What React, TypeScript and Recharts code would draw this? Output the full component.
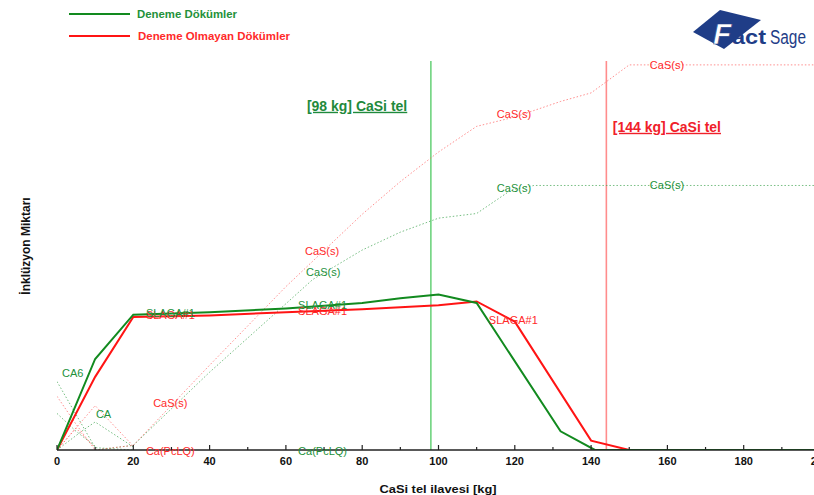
import React from "react";
import { LineChart, Line, XAxis, YAxis, ReferenceLine, ReferenceDot } from "recharts";

// ---- Series data (CaSi tel ilavesi [kg] vs. İnklüzyon Miktarı) ----
const greenSlagX = [0, 10, 20, 40, 60, 80, 90, 100, 110, 132, 141, 200];
const greenSlagY = [0, 11.7, 17.4, 17.7, 18.2, 18.9, 19.5, 20.0, 18.9, 2.4, 0, 0];

const redSlagX = [0, 10, 20, 40, 60, 80, 100, 110, 120, 140, 150];
const redSlagY = [0, 9.4, 17.1, 17.3, 17.7, 18.1, 18.6, 19.1, 16.5, 1.2, 0];

const greenCaSX = [10, 20, 40, 60, 67, 80, 90, 100, 110, 119, 125, 200];
const greenCaSY = [0, 0.6, 10.0, 18.8, 21.9, 25.7, 28.0, 29.8, 30.4, 33.4, 34.0, 34.0];

const redCaSX = [10, 20, 40, 60, 80, 90, 100, 110, 120, 132, 140, 150, 200];
const redCaSY = [0, 0.6, 10.9, 21.0, 30.3, 34.5, 38.3, 41.6, 42.8, 44.8, 45.9, 49.5, 49.5];

const greenCA6X = [0, 10, 20];
const greenCA6Y = [8.8, 0.3, 0];
const redCA6X = [0, 5, 10];
const redCA6Y = [6.9, 3.3, 0];
const greenCAX = [0, 7, 10, 20];
const greenCAY = [0, 2.6, 3.6, 0.4];
const redCAX = [0, 10, 20];
const redCAY = [0, 5.7, 0.5];
const greenC3AX = [0, 5, 10];
const greenC3AY = [4.7, 2.4, 0.5];
const redC3AX = [0, 5, 10];
const redC3AY = [0, 2.8, 0.3];

// CaSi tel markers [kg]
const greenMarkKg = 98;
const redMarkKg = 144;

// Phase labels: text, x, y, series
const labelText = ["CA6", "CA", "CaS(s)", "Ca(PcLQ)", "Ca(PcLQ)", "SLAGA#1", "SLAGA#1", "SLAGA#1", "SLAGA#1", "SLAGA#1", "CaS(s)", "CaS(s)", "CaS(s)", "CaS(s)", "CaS(s)", "CaS(s)"];
const labelX = [1.3, 10.2, 25.2, 23.3, 63.2, 23.3, 23.3, 63.2, 63.2, 113.2, 65.0, 65.3, 115.3, 115.3, 155.4, 155.4];
const labelY = [9.4, 4.1, 5.5, -0.6, -0.6, 16.8, 17.1, 17.4, 18.1, 16.2, 25.1, 22.4, 42.7, 33.2, 49.0, 33.5];
const labelSeries = ["g", "g", "r", "r", "g", "r", "g", "r", "g", "r", "r", "g", "r", "g", "r", "g"];

const xTicks = Array.from({ length: 21 }, (_, i) => i * 10);
const yTicks = Array.from({ length: 51 }, (_, i) => i);

const GREEN = "#128a1f";
const RED = "#ff1414";
const GREEN_TXT = "#23913a";
const RED_TXT = "#ff2a2a";
const GREEN_DOT = "#4aa85a";
const RED_DOT = "#ff6a6a";
const LOGO = "#1f3d87";
const FONT = "'Liberation Sans', Arial, sans-serif";

const W = 830;
const H = 487;
const M = { top: 53, right: 18, bottom: 0, left: 49 };
const X_AXIS_H = 45;
const PLOT_LEFT = M.left;
const PLOT_TOP = M.top;
const PLOT_BOTTOM = H - M.bottom - X_AXIS_H;

const pts = (xs: number[], ys: number[]) => xs.map((x, i) => ({ x, y: ys[i] }));

const BottomTick = (props: any) => {
  const { x, payload } = props;
  const v = payload.value as number;
  const major = v % 20 === 0;
  return (
    <g>
      <line x1={x} x2={x} y1={PLOT_BOTTOM} y2={PLOT_BOTTOM - (major ? 5 : 3)} stroke="#222" strokeWidth={1.2} />
      {major && (
        <text x={x} y={PLOT_BOTTOM + 15} textAnchor="middle" fontFamily={FONT} fontWeight="bold" fontSize={11} fill="#111">
          {v}
        </text>
      )}
    </g>
  );
};

const TopTick = (props: any) => {
  const { x } = props;
  return <line x1={x} x2={x} y1={PLOT_TOP} y2={PLOT_TOP + 4} stroke="#222" strokeWidth={1.2} />;
};

const LeftTick = (props: any) => {
  const { y } = props;
  return <line x1={PLOT_LEFT} x2={PLOT_LEFT + 5} y1={y} y2={y} stroke="#222" strokeWidth={1.1} />;
};

const textShape = (text: string, color: string, size = 11, bold = false, underline = false) => (p: any) => (
  <text
    x={p.cx}
    y={p.cy}
    fill={color}
    fontFamily={FONT}
    fontSize={size}
    fontWeight={bold ? "bold" : "normal"}
    textDecoration={underline ? "underline" : undefined}
  >
    {text}
  </text>
);

const dotted = (key: string, xs: number[], ys: number[], color: string) => (
  <Line
    key={key}
    data={pts(xs, ys)}
    dataKey="y"
    type="linear"
    dot={false}
    stroke={color}
    strokeWidth={1}
    strokeDasharray="1.5 2"
    strokeOpacity={0.75}
    isAnimationActive={false}
  />
);

export default function App() {
  return (
    <div style={{ position: "absolute", left: 8, top: 8, width: 806, height: H, overflow: "hidden" }}>
      <LineChart width={W} height={H} margin={M}>
        <XAxis
          type="number"
          dataKey="x"
          domain={[0, 200]}
          ticks={xTicks}
          interval={0}
          tick={<BottomTick />}
          tickLine={false}
          height={X_AXIS_H}
          axisLine={{ stroke: "#222", strokeWidth: 1.6 }}
          allowDataOverflow
        />
        <XAxis
          xAxisId="top"
          orientation="top"
          type="number"
          domain={[0, 200]}
          ticks={xTicks}
          interval={0}
          tick={<TopTick />}
          tickLine={false}
          height={0}
          axisLine={{ stroke: "#333", strokeWidth: 1.4 }}
        />
        <YAxis
          type="number"
          domain={[0, 50]}
          ticks={yTicks}
          interval={0}
          width={0}
          tick={<LeftTick />}
          tickLine={false}
          axisLine={{ stroke: "#222", strokeWidth: 1.6 }}
          allowDataOverflow
        />

        <ReferenceLine x={greenMarkKg} stroke="#6fd47f" strokeWidth={1.6} ifOverflow="visible" />
        <ReferenceLine x={redMarkKg} stroke="#ff8c8c" strokeWidth={1.6} ifOverflow="visible" />

        {dotted("gca6", greenCA6X, greenCA6Y, GREEN_DOT)}
        {dotted("rca6", redCA6X, redCA6Y, RED_DOT)}
        {dotted("gca", greenCAX, greenCAY, GREEN_DOT)}
        {dotted("rca", redCAX, redCAY, RED_DOT)}
        {dotted("gc3a", greenC3AX, greenC3AY, GREEN_DOT)}
        {dotted("rc3a", redC3AX, redC3AY, RED_DOT)}
        {dotted("gcas", greenCaSX, greenCaSY, GREEN_DOT)}
        {dotted("rcas", redCaSX, redCaSY, RED_DOT)}

        <Line data={pts(redSlagX, redSlagY)} dataKey="y" type="linear" dot={false} stroke={RED} strokeWidth={2} isAnimationActive={false} />
        <Line data={pts(greenSlagX, greenSlagY)} dataKey="y" type="linear" dot={false} stroke={GREEN} strokeWidth={2} isAnimationActive={false} />

        {labelText.map((t, i) => (
          <ReferenceDot
            key={"lbl" + i}
            x={labelX[i]}
            y={labelY[i]}
            r={0}
            ifOverflow="visible"
            shape={textShape(t, labelSeries[i] === "g" ? GREEN_TXT : RED_TXT)}
          />
        ))}

        <ReferenceDot
          x={65.5}
          y={43.6}
          r={0}
          ifOverflow="visible"
          shape={textShape(`[${greenMarkKg} kg] CaSi tel`, "#1f8a3c", 14, true, true)}
        />
        <ReferenceDot
          x={145.7}
          y={40.9}
          r={0}
          ifOverflow="visible"
          shape={textShape(`[${redMarkKg} kg] CaSi tel`, "#f0202a", 14, true, true)}
        />
      </LineChart>

      <svg width={806} height={H} style={{ position: "absolute", left: 0, top: 0, pointerEvents: "none" }}>
        {/* legend */}
        <line x1={61} x2={122} y1={6} y2={6} stroke={GREEN} strokeWidth={2} />
        <text x={129} y={10} fontFamily={FONT} fontWeight="bold" fontSize={10} fill={GREEN_TXT} textLength={100} lengthAdjust="spacingAndGlyphs">
          Deneme Dökümler
        </text>
        <line x1={61} x2={122} y1={28} y2={28} stroke={RED} strokeWidth={2} />
        <text x={130} y={32} fontFamily={FONT} fontWeight="bold" fontSize={10} fill={RED_TXT} textLength={152} lengthAdjust="spacingAndGlyphs">
          Deneme Olmayan Dökümler
        </text>

        {/* axis titles */}
        <text
          x={22}
          y={238}
          transform="rotate(-90 22 238)"
          textAnchor="middle"
          fontFamily="'Liberation Sans Narrow', 'Arial Narrow', 'Liberation Sans', sans-serif"
          fontWeight="bold"
          fontSize={12}
          fill="#111"
        >
          İnklüzyon Miktarı
        </text>
        <text x={430} y={485} textAnchor="middle" fontFamily={FONT} fontWeight="bold" fontSize={11} fill="#111" textLength={117} lengthAdjust="spacingAndGlyphs">
          CaSi tel ilavesi [kg]
        </text>

        {/* FactSage logo */}
        <g>
          <polygon points="685,24 712,2 753,12 716,41" fill={LOGO} />
          <text x={705} y={36} fontFamily={FONT} fontWeight="bold" fontStyle="italic" fontSize={30} fill="#ffffff" stroke={LOGO} strokeWidth={0.6}>
            F
          </text>
          <text x={724} y={36} fontFamily={FONT} fontWeight="bold" fontSize={20} fill={LOGO} textLength={34} lengthAdjust="spacingAndGlyphs">
            act
          </text>
          <text x={762} y={36} fontFamily={FONT} fontSize={20} fill={LOGO} textLength={36} lengthAdjust="spacingAndGlyphs">
            Sage
          </text>
        </g>
      </svg>
    </div>
  );
}
